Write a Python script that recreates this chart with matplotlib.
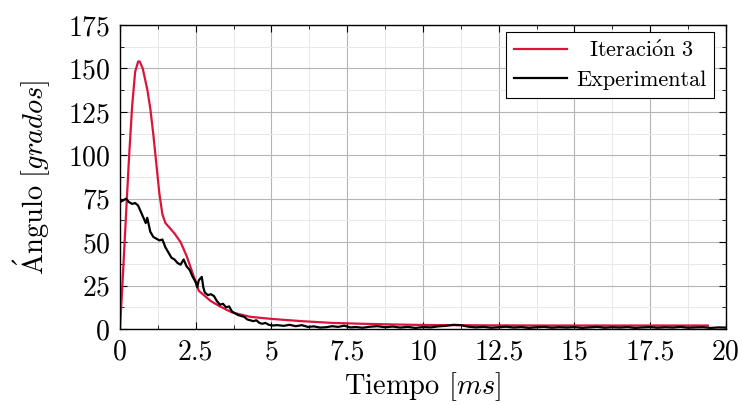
import numpy as np
import matplotlib.pyplot as plt
from matplotlib.ticker import MultipleLocator

plt.rcParams['font.family'] = 'serif'
plt.rcParams['font.serif'] = ['cmr10']
plt.rcParams['mathtext.fontset'] = 'cm'
plt.rcParams['axes.formatter.use_mathtext'] = True

# Iteracion 3 (simulation)
t_sim = [0.0, 0.1, 0.2, 0.3, 0.4, 0.5, 0.6, 0.65, 0.75, 0.9, 1.0, 1.1, 1.2, 1.3,
         1.4, 1.5, 1.6, 1.8, 2.0, 2.2, 2.4, 2.6, 2.8, 3.0, 3.3, 3.7, 4.3, 5.0,
         6.0, 7.0, 8.0, 9.0, 10.0, 12.0, 14.0, 16.0, 18.0, 19.4]
a_sim = [0, 32, 66, 99, 128, 148, 154, 154, 150, 138, 127, 112, 95, 78,
         66, 61, 59, 55, 50, 42, 32, 22, 19, 16, 13, 9.5, 7, 5.8,
         4.5, 3.5, 3.0, 2.6, 2.3, 2.1, 2.0, 2.0, 2.0, 2.0]

# Experimental
t_exp = [0.0, 0.1, 0.2, 0.3, 0.4, 0.5, 0.6, 0.7, 0.8, 0.85, 0.9, 1.0, 1.1, 1.2,
         1.3, 1.4, 1.5, 1.6, 1.7, 1.8, 1.9, 2.0, 2.1, 2.2, 2.3, 2.4, 2.5, 2.55,
         2.6, 2.7, 2.75, 2.8, 2.9, 3.0, 3.1, 3.2, 3.3, 3.4, 3.5, 3.6, 3.7, 3.8,
         3.9, 4.0, 4.1, 4.2, 4.3, 4.4, 4.5, 4.6, 4.7, 4.8, 4.9, 5.0, 5.2, 5.4,
         5.6, 5.8, 6.0, 6.2, 6.4, 6.6, 6.8, 7.0, 7.2, 7.4, 7.6, 7.8, 8.0, 8.25,
         8.5, 8.75, 9.0, 9.25, 9.5, 9.75, 10.0, 10.25, 10.5, 10.75, 11.0, 11.25,
         11.5, 11.75, 12.0, 12.25, 12.5, 12.75, 13.0, 13.25, 13.5, 13.75, 14.0,
         14.25, 14.5, 14.75, 15.0, 15.25, 15.5, 15.75, 16.0, 16.25, 16.5, 16.75,
         17.0, 17.25, 17.5, 17.75, 18.0, 18.25, 18.5, 18.75, 19.0, 19.25, 19.5,
         19.75, 20.0]
a_exp = [73, 74, 75, 73, 72, 72.5, 71, 67, 63, 61, 64, 56, 53, 52,
         51, 51.5, 47, 44, 41, 40, 38, 37, 40, 36, 34, 30, 27, 24,
         28, 30, 24, 21, 19.5, 20, 19, 16, 14, 14.5, 12.5, 13, 10, 9,
         8, 7.5, 7, 5.5, 5, 4.5, 5, 3.5, 3, 3.5, 2.5, 2, 2.2, 1.8,
         2.4, 1.6, 2.2, 1.2, 1.5, 0.8, 1.0, 1.6, 1.2, 1.9, 0.9, 1.1, 0.7, 1.3,
         1.6, 1.0, 1.4, 0.8, 1.2, 0.6, 1.1, 0.9, 1.5, 1.8, 2.4, 2.2,
         1.3, 0.9, 1.2, 0.7, 1.0, 1.3, 0.8, 1.1, 0.6, 1.0, 1.2,
         0.7, 1.0, 0.8, 1.1, 0.6, 0.9, 1.2, 0.7, 1.0, 0.8, 1.1,
         0.6, 0.9, 1.1, 0.7, 1.0, 0.8, 1.2, 0.7, 0.9, 1.0, 0.6,
         0.9, 0.8]

fig = plt.figure(figsize=(7.42, 4.05), dpi=100)
ax = fig.add_axes([0.1617, 0.1877, 0.8167, 0.7506])

# leading spaces roughly centre the first entry like the pgfplots legend
ax.plot(t_sim, a_sim, color='#dc143c', lw=1.6, label=r'$\mathrm{\ \ Iteraci\acute{o}n\ 3}$')
ax.plot(t_exp, a_exp, color='black', lw=1.6, label='Experimental')

ax.set_xlim(0, 20)
ax.set_ylim(0, 175)
ax.xaxis.set_minor_locator(MultipleLocator(1.25))
ax.yaxis.set_major_locator(MultipleLocator(25))
ax.yaxis.set_minor_locator(MultipleLocator(12.5))
ax.set_xticks([0, 2.5, 5, 7.5, 10, 12.5, 15, 17.5, 20])
ax.set_xticklabels(['0', '2.5', '5', '7.5', '10', '12.5', '15', '17.5', '20'])

ax.grid(which='major', color='#b5b5b5', lw=0.8)
ax.grid(which='minor', color='#e8e8e8', lw=0.7)
ax.set_axisbelow(True)
ax.tick_params(which='both', direction='in', top=True, right=True, labelsize=20)
ax.tick_params(which='major', length=5, width=0.8, pad=7)
ax.tick_params(which='minor', length=3, width=0.6)
for s in ax.spines.values():
    s.set_linewidth(1.0)

ax.set_xlabel(r'Tiempo $[ms]$', fontsize=20.5, labelpad=4)
ax.set_ylabel(r'$\mathrm{\acute{A}ngulo}\ [grados]$', fontsize=20.5, labelpad=11)

leg = ax.legend(loc='upper right', bbox_to_anchor=(0.98, 0.977), borderaxespad=0,
                fontsize=16, fancybox=False, framealpha=1, edgecolor='black',
                handlelength=2.4, handletextpad=0.4, borderpad=0.35,
                labelspacing=0.43)
leg.get_frame().set_linewidth(0.8)

fig.savefig('out.png', dpi=100)
